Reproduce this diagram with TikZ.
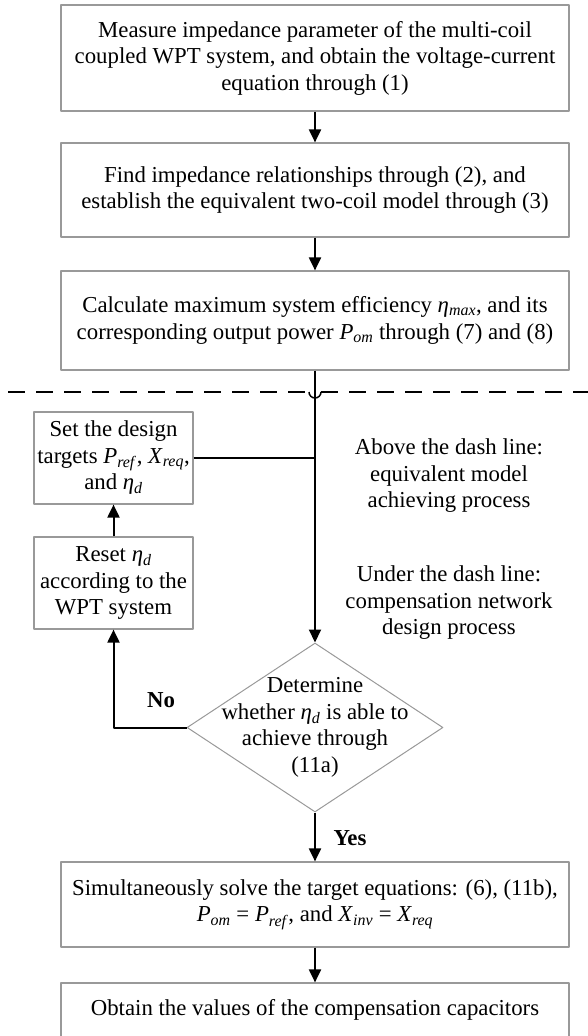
\documentclass[tikz,border=0pt]{standalone}
\usepackage{fontspec}
\setmainfont{Liberation Serif}
\usetikzlibrary{shapes.geometric,arrows.meta}
\newcommand{\isub}[2]{\textit{#1}\textsubscript{\textit{#2}}}
\begin{document}
\begin{tikzpicture}[x=1pt, y=-1pt, line join=round,
  >={Triangle[width=12pt,length=13pt]},
  font=\fontsize{22.8}{26.5}\selectfont,
  box/.style={draw=black!40, line width=1.2pt, align=center, inner sep=0pt, minimum width=508pt},
  side/.style={box, minimum width=159pt, minimum height=92pt},
  flow/.style={->, line width=2pt},
  decision/.style={diamond, draw=black!40, line width=1pt, inner sep=0pt, minimum width=256pt, minimum height=169pt},
  dashline/.style={line width=2pt, dash pattern=on 17pt off 11pt}]
\useasboundingbox (0,0) rectangle (588,1036);
% upper part: equivalent model
\node[box, minimum height=106pt] (measure) at (315,58) {Measure impedance parameter of the multi-coil\\ coupled WPT system, and obtain the voltage-current\\ equation through (1)};
\node[box, minimum height=94pt] (find) at (315,190) {Find impedance relationships through (2), and\\ establish the equivalent two-coil model through (3)};
\node[box, minimum height=99pt] (calc) at (315,320.5) {Calculate maximum system efficiency \isub{η}{max}, and its\\ corresponding output power \isub{P}{om} through (7) and (8)};
\draw[flow] (measure) -- (find);
\draw[flow] (find) -- (calc);
% dash line with hop
\draw[dashline] (8,392) -- (309,392);
\draw[dashline] (321,392) -- (588,392);
\draw[line width=1.5pt] (309,392) arc[start angle=180, end angle=0, radius=6];
% lower part: compensation network
\node[side] (target) at (113.5,458) {Set the design\\ targets \isub{P}{ref}, \isub{X}{req},\\ and \isub{η}{d}};
\node[side] (reset) at (113.5,583) {Reset \isub{η}{d}\\ according to the\\ WPT system};
\node[decision] (judge) at (315,727.5) {};
\node[align=center] (judgetext) at (judge) {Determine\\ whether \isub{η}{d} is able to\\ achieve through\\ (11a)};
\node[box, minimum height=85pt] (solve) at (315,904.5) {Simultaneously solve the target equations: (6), (11b),\\ \isub{P}{om} = \isub{P}{ref}, and \isub{X}{inv} = \isub{X}{req}};
\node[box, minimum height=54pt] (obtain) at (315,1010) {Obtain the values of the compensation capacitors};
\node[align=center] (abovenote) at (449,476) {Above the dash line:\\ equivalent model\\ achieving process};
\node[align=center] (undernote) at (449,603) {Under the dash line:\\ compensation network\\ design process};
\draw[flow] (calc.south) -- (judge.north);
\draw[line width=2pt] (target.east) -- (target.east -| calc.south);
\draw[flow] (reset) -- (target);
\draw[flow] (judge.west) -| (reset.south);
\node[font=\fontsize{22.8}{26}\selectfont\bfseries] (no) at (161,700) {No};
\draw[flow] (judge.south) -- (solve.north);
\node[font=\fontsize{22.8}{26}\selectfont\bfseries] (yes) at (350,838) {Yes};
\draw[flow] (solve) -- (obtain);
\end{tikzpicture}
\end{document}
